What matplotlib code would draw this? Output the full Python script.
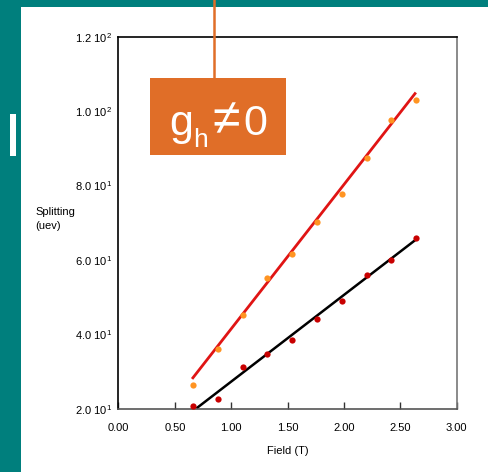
import matplotlib
matplotlib.use("Agg")
import matplotlib.pyplot as plt
from matplotlib.patches import Rectangle
from matplotlib.lines import Line2D

plt.rcParams['font.family'] = ['Liberation Sans', 'DejaVu Sans']
plt.rcParams['mathtext.fontset'] = 'custom'
plt.rcParams['mathtext.rm'] = 'Liberation Sans'
plt.rcParams['mathtext.it'] = 'Liberation Sans'
plt.rcParams['mathtext.default'] = 'regular'

# data
field = [0.66, 0.88, 1.10, 1.32, 1.54, 1.76, 1.98, 2.20, 2.42, 2.64]
upper = [26.5, 36.0, 45.3, 55.1, 61.6, 70.1, 77.6, 87.5, 97.6, 103.1]
lower = [20.6, 22.7, 31.2, 34.8, 38.6, 44.2, 48.9, 56.0, 60.1, 66.0]

upper_fit_x = [0.66, 2.63]
upper_fit_y = [28.3, 104.7]
lower_fit_x = [0.70, 2.64]
lower_fit_y = [20.3, 65.5]

xticks = [0.0, 0.5, 1.0, 1.5, 2.0, 2.5, 3.0]
xlabels = ['0.00', '0.50', '1.00', '1.50', '2.00', '2.50', '3.00']
yticks = [20, 40, 60, 80, 100, 120]
ylabels = ['2.0 10$^{1}$', '4.0 10$^{1}$', '6.0 10$^{1}$',
           '8.0 10$^{1}$', '1.0 10$^{2}$', '1.2 10$^{2}$']

teal = '#007f7d'
orange = '#e06e28'

W, H = 489, 472
fig = plt.figure(figsize=(W / 100, H / 100), dpi=100)
fig.patch.set_facecolor('white')


def fx(px):
    return px / W


def fy(py):
    return 1 - py / H


# teal frame
fig.patches.append(Rectangle((0, fy(7.3)), 1, 7.3 / H, transform=fig.transFigure,
                             facecolor=teal, edgecolor='none', zorder=0))
fig.patches.append(Rectangle((0, 0), fx(21), 1, transform=fig.transFigure,
                             facecolor=teal, edgecolor='none', zorder=0))
fig.patches.append(Rectangle((fx(10), fy(156)), fx(6), 42 / H, transform=fig.transFigure,
                             facecolor='white', edgecolor='none', zorder=1))

ax = fig.add_axes([fx(118.5), 63.3 / H, 338.2 / W, 372 / H])

ax.plot(upper_fit_x, upper_fit_y, color='#e01414', lw=2.0, zorder=2)
ax.plot(lower_fit_x, lower_fit_y, color='black', lw=1.8, zorder=2)
ax.plot(field, upper, 'o', color='#ff9422', ms=4.5, mec='none', zorder=3)
ax.plot(field, lower, 'o', color='#c80000', ms=4.5, mec='none', zorder=3)

ax.set_xlim(0, 3)
ax.set_ylim(20, 120)
ax.set_xticks(xticks)
ax.set_xticklabels(xlabels)
ax.set_yticks(yticks)
ax.set_yticklabels(ylabels)
ax.tick_params(axis='x', direction='in', length=5, width=1, pad=10, labelsize=8, color='#333333')
ax.tick_params(axis='y', length=0, pad=5, labelsize=8)

ax.spines['left'].set_color('black')
ax.spines['top'].set_color('black')
ax.spines['right'].set_color('#777777')
ax.spines['bottom'].set_color('#555555')
for s in ax.spines.values():
    s.set_linewidth(1.2)

ax.set_xlabel('Field (T)', fontsize=8, labelpad=10)
fig.text(fx(35.5), fy(219), 'Splitting\n(uev)', fontsize=8, ha='left', va='center',
         linespacing=1.4)

# callout
fig.add_artist(Line2D([fx(214.3), fx(214.3)], [1, fy(78)], transform=fig.transFigure,
                      color=orange, lw=1.8, zorder=5))
fig.patches.append(Rectangle((fx(150), fy(154.7)), 135.7 / W, 77 / H,
                             transform=fig.transFigure, facecolor=orange, edgecolor='none', zorder=5))
fig.text(fx(169), fy(134.7), 'g', fontsize=31, color='white', ha='left', va='baseline', zorder=6)
fig.text(fx(193), fy(147.3), 'h', fontsize=19, color='white', ha='left', va='baseline', zorder=6)
fig.text(fx(226), fy(134.7), '≠', fontsize=36, color='white', ha='center', va='baseline', zorder=6)
fig.text(fx(267), fy(134.7), '0', fontsize=31, color='white', ha='right', va='baseline', zorder=6)

fig.savefig('out.png', dpi=100)
